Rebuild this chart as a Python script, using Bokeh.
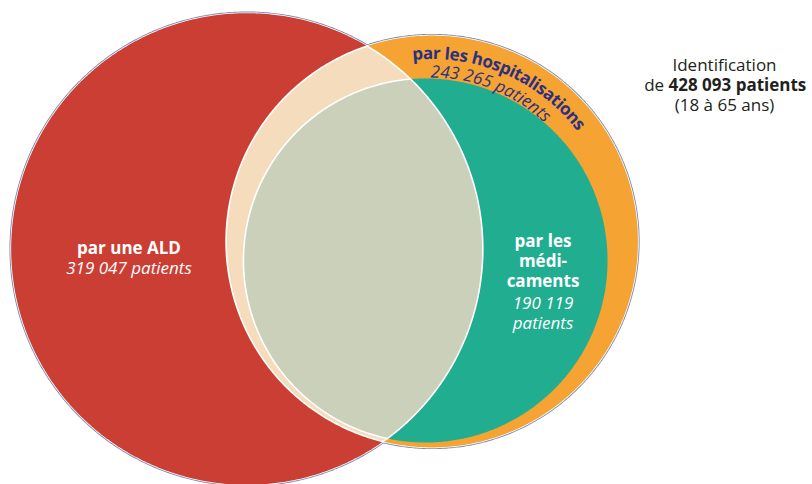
import numpy as np
from bokeh.plotting import figure
from bokeh.models import Range1d
from bokeh.core.properties import value
from bokeh.embed import file_html
from bokeh.resources import INLINE

# ---- data ----
groups = ["par une ALD", "par les hospitalisations", "par les médicaments"]
patients = [319047, 243265, 190119]
total_patients = 428093
title_line = "Identification"
age_band = "(18 à 65 ans)"


def fmt(v):
    return f"{v:,}".replace(",", " ")


# ---- layout / style ----
K = 0.4175  # area-proportional radius scale
centers = [(246.5, 248.5), (431.5, 241.0), (425.0, 260.0)]
radii = [K * np.sqrt(v) for v in patients]
RED, ORANGE, GREEN = "#cb3e34", "#f5a332", "#21ad8f"
PEACH, GRAY, EDGE = "#f5dcbd", "#cad0b9", "#7b8bb5"
NAVY, INK = "#2e2f80", "#231f20"
FONT = value("Open Sans")
FS = 17
W, H = 812, 484

p = figure(width=W, height=H, x_range=Range1d(0, W), y_range=Range1d(H, 0),
           output_backend="svg", toolbar_location=None, min_border=0,
           x_axis_type=None, y_axis_type=None, outline_line_color=None,
           background_fill_color="white", border_fill_color="white")
p.grid.visible = False


def disc(c, r, n=720):
    t = np.linspace(0, 2 * np.pi, n)
    return c[0] + r * np.cos(t), c[1] + r * np.sin(t)


def lens(c1, r1, c2, r2, n=300):
    dx, dy = c2[0] - c1[0], c2[1] - c1[1]
    d = np.hypot(dx, dy)
    phi = np.arctan2(dy, dx)
    a = (r1 ** 2 - r2 ** 2 + d ** 2) / (2 * d)
    al1 = np.arccos(a / r1)
    al2 = np.arccos((d - a) / r2)
    t1 = np.linspace(phi - al1, phi + al1, n)
    t2 = np.linspace(phi + np.pi - al2, phi + np.pi + al2, n)
    xs = np.concatenate([c1[0] + r1 * np.cos(t1), c2[0] + r2 * np.cos(t2)])
    ys = np.concatenate([c1[1] + r1 * np.sin(t1), c2[1] + r2 * np.sin(t2)])
    return xs, ys


# outer outline (blue-gray then white) of the union of red & orange
for i in (0, 1):
    x, y = disc(centers[i], radii[i] + 1.7)
    p.patch(x, y, fill_color=EDGE, line_color=None)
for i in (0, 1):
    x, y = disc(centers[i], radii[i] + 0.8)
    p.patch(x, y, fill_color="white", line_color=None)

x, y = disc(centers[0], radii[0])
p.patch(x, y, fill_color=RED, line_color=None)
x, y = disc(centers[1], radii[1])
p.patch(x, y, fill_color=ORANGE, line_color=None)
x, y = lens(centers[0], radii[0], centers[1], radii[1])
p.patch(x, y, fill_color=PEACH, line_color="white", line_width=1.6)
x, y = disc(centers[2], radii[2])
p.patch(x, y, fill_color=GREEN, line_color=None)
x, y = lens(centers[0], radii[0], centers[2], radii[2])
p.patch(x, y, fill_color=GRAY, line_color="white", line_width=1.6)

# ---- texts ----
common = dict(text_font=FONT, text_font_size=f"{FS}px", text_align="center",
              text_baseline="alphabetic")

# ALD
p.text(x=[128.5], y=[247], text=[groups[0]], text_color="white", text_font_style="bold", **common)
p.text(x=[128.5], y=[267], text=[fmt(patients[0]) + " patients"], text_color="white",
       text_font_style="italic", **common)

# médicaments
p.text(x=[542.5, 542.5, 542.5], y=[240, 260, 280], text=["par les", "médi-", "caments"],
       text_color="white", text_font_style="bold", **common)
p.text(x=[542.5, 542.5], y=[302, 322], text=[fmt(patients[2]), "patients"],
       text_color="white", text_font_style="italic", **common)

# Identification block
p.text(x=[724], y=[64], text=[title_line], text_color=INK, text_font_style="normal", **common)
p.text(x=[724], y=[104], text=[age_band], text_color=INK, text_font_style="normal", **common)
split = 668
p.text(x=[split - 0.26 * FS], y=[84], text=["de"], text_color=INK, text_font=FONT,
       text_font_size=f"{FS}px", text_align="right", text_baseline="alphabetic")
p.text(x=[split], y=[84], text=[fmt(total_patients) + " patients"], text_color=INK,
       text_font=FONT, text_font_style="bold", text_font_size=f"{FS}px",
       text_align="left", text_baseline="alphabetic")

# curved hospitalisation labels
BOLD_W = {" ": 0.26, "a": 0.604, "c": 0.509, "e": 0.586, "h": 0.647, "i": 0.293,
          "l": 0.293, "n": 0.647, "o": 0.607, "p": 0.630, "r": 0.434, "s": 0.498,
          "t": 0.421}
ITAL_W = {" ": 0.26, "p": 0.602, "a": 0.602, "t": 0.347, "i": 0.266, "e": 0.522,
          "n": 0.602, "s": 0.457}
for dch in "0123456789":
    BOLD_W[dch] = 0.572
    ITAL_W[dch] = 0.572


def arc_text(s, c, r, start_deg, widths, size):
    xs, ys, ang, txt = [], [], [], []
    pos = 0.0
    for ch in s:
        w = widths.get(ch, 0.55) * size
        th = np.radians(start_deg) + (pos + w / 2) / r
        if ch != " ":
            xs.append(c[0] + r * np.sin(th))
            ys.append(c[1] - r * np.cos(th))
            ang.append(-th)
            txt.append(ch)
        pos += w
    return xs, ys, ang, txt


xs, ys, ang, txt = arc_text(groups[1], centers[1], 189, -6.0, BOLD_W, FS)
p.text(x=xs, y=ys, text=txt, angle=ang, text_color=NAVY, text_font_style="bold", **common)
xs, ys, ang, txt = arc_text(fmt(patients[1]) + " patients", centers[1], 170, -0.5, ITAL_W, FS)
p.text(x=xs, y=ys, text=txt, angle=ang, text_color=NAVY, text_font_style="italic", **common)

open("out.html", "w").write(file_html(p, INLINE))
